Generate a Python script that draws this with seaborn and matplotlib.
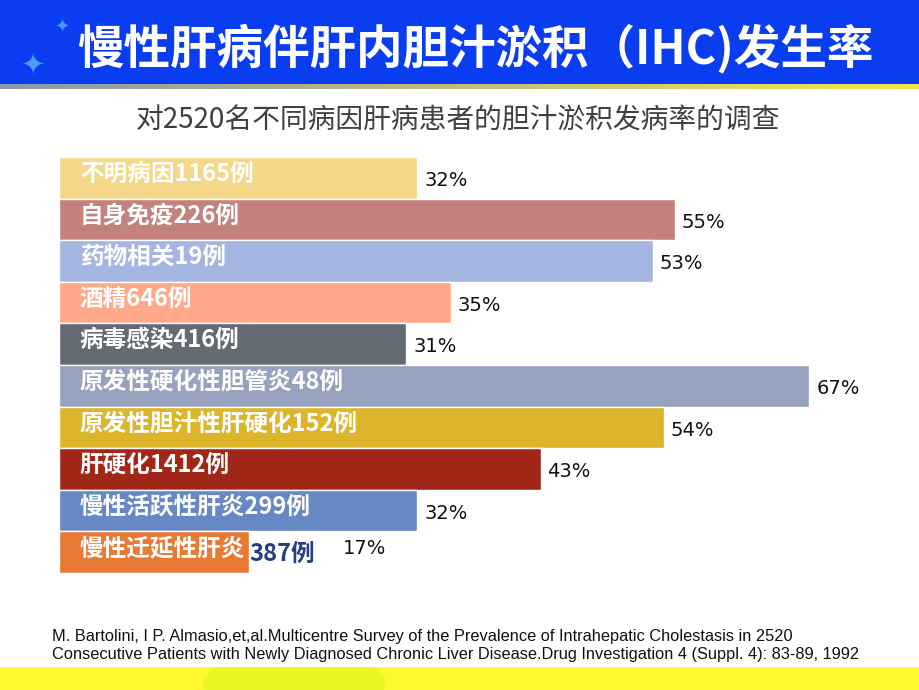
import matplotlib
matplotlib.use("Agg")
import matplotlib.pyplot as plt
import seaborn as sns
import numpy as np
import pandas as pd
from matplotlib.patches import Rectangle, Ellipse

# ---- data ----
names = ["不明病因", "自身免疫", "药物相关", "酒精", "病毒感染",
         "原发性硬化性胆管炎", "原发性胆汁性肝硬化", "肝硬化",
         "慢性活跃性肝炎", "慢性迁延性肝炎"]
counts = [1165, 226, 19, 646, 416, 48, 152, 1412, 299, 387]
rates = [32, 55, 53, 35, 31, 67, 54, 43, 32, 17]
count_outside = [False] * 9 + [True]
colors = ["#F5D789", "#C4827F", "#A3B5E0", "#FFA98A", "#646A73",
          "#97A3BE", "#DDB52B", "#A12818", "#6688C4", "#E87A35"]

title = "慢性肝病伴肝内胆汁淤积（IHC)发生率"
subtitle = "对2520名不同病因肝病患者的胆汁淤积发病率的调查"
citation = ("M. Bartolini, I P. Almasio,et,al.Multicentre Survey of the Prevalence of Intrahepatic Cholestasis in 2520\n"
            "Consecutive Patients with Newly Diagnosed Chronic Liver Disease.Drug Investigation 4 (Suppl. 4): 83-89, 1992")

sns.set_theme(style="white")
plt.rcParams['font.family'] = ['Noto Sans CJK SC', 'DejaVu Sans']

W, H = 920, 690
fig = plt.figure(figsize=(9.2, 6.9), dpi=100)
fig.patch.set_facecolor("white")

def fx(px):
    return px / W

def fy(py):
    return 1 - py / H

# ---- header banner ----
fig.patches.append(Rectangle((0, fy(84)), 1, 84 / H, transform=fig.transFigure,
                             facecolor="#0A3DF0", edgecolor="none", zorder=0))
# gradient line under banner
gax = fig.add_axes([0, fy(89), 1, 5 / H])
grad = np.linspace(0, 1, 256)
c0 = np.array([0.55, 0.60, 0.66])
c1 = np.array([0.95, 0.90, 0.30])
img = (c0[None, :] * (1 - grad[:, None]) + c1[None, :] * grad[:, None])[None, :, :]
gax.imshow(img, aspect="auto", extent=[0, 1, 0, 1])
gax.axis("off")

# bottom yellow band
bax = fig.add_axes([0, 0, 1, 23 / H])
bax.set_xlim(0, 1)
bax.set_ylim(0, 1)
bax.add_patch(Rectangle((0, 0), 1, 1, facecolor="#FFF82E", edgecolor="none"))
bax.add_patch(Ellipse((0.32, 0.3), 0.2, 2.6, facecolor="#E6F822", edgecolor="none", alpha=0.85))
bax.axis("off")

# stars
fig.text(fx(62), fy(28), "✦", color="#5AB4FF", fontsize=13, ha="center", va="center",
         family=["DejaVu Sans"], alpha=0.8)
fig.text(fx(33), fy(66), "✦", color="#5AB4FF", fontsize=21, ha="center", va="center",
         family=["DejaVu Sans"], alpha=0.8)

fig.text(fx(475), fy(49), title, color="white", fontsize=33.5, fontweight="bold",
         ha="center", va="center")
fig.text(fx(458), fy(121), subtitle, color="#404040", fontsize=20,
         ha="center", va="center")

# ---- bars ----
labels = [f"{n}{c}例" for n, c in zip(names, counts)]
df = pd.DataFrame({"label": labels, "rate": rates})

ax = fig.add_axes([fx(59), fy(573), fx(840), 416 / H])
sns.barplot(data=df, x="rate", y="label", hue="label", palette=colors, orient="h",
            width=1.0, saturation=1, legend=False, ax=ax)
ax.set_xlim(0, 75)
ax.set_ylim(len(rates) - 0.5, -0.5)
ax.axis("off")

for i, (n, c, r, out) in enumerate(zip(names, counts, rates, count_outside)):
    inside = n if out else f"{n}{c}例"
    ax.annotate(inside, xy=(0, i), xytext=(15, 3), textcoords="offset points",
                color="white", fontsize=17, fontweight="bold", ha="left", va="center")
    if out:
        ax.annotate(f"{c}例", xy=(r, i), xytext=(0, -1), textcoords="offset points",
                    color="#23407E", fontsize=17, fontweight="bold", ha="left", va="center")
        ax.annotate(f"{r}%", xy=(r, i), xytext=(67, 3), textcoords="offset points",
                    color="#111111", fontsize=14, ha="left", va="center",
                    family=["DejaVu Sans"])
    else:
        ax.annotate(f"{r}%", xy=(r, i), xytext=(5, -2), textcoords="offset points",
                    color="#111111", fontsize=14, ha="left", va="center",
                    family=["DejaVu Sans"])

# ---- citation ----
fig.text(fx(52), fy(646), citation, color="#111111", fontsize=11.8, ha="left",
         va="center", linespacing=1.25,
         family=["Liberation Sans Narrow", "Liberation Sans", "DejaVu Sans"])

fig.savefig("out.png", dpi=100)
